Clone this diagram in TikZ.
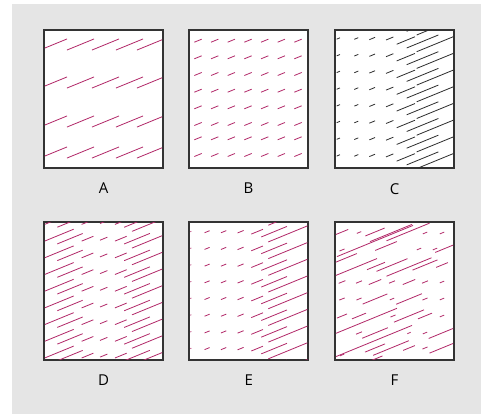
\documentclass[tikz,border=0pt]{standalone}
\usepackage{fontspec}
\setsansfont{Open Sans}
\usetikzlibrary{positioning}

\definecolor{bggray}{RGB}{229,229,229}
\definecolor{hatchred}{RGB}{178,40,104}
\definecolor{framegray}{RGB}{51,51,51}
\definecolor{inkgray}{RGB}{45,45,45}

\tikzset{
  panel/.style={draw=framegray, line width=1.9pt, fill=white, minimum width=119pt,
    minimum height=138pt, inner sep=0pt, outer sep=0pt},
  lab/.style={font=\sffamily\fontsize{15}{18}\selectfont, inner sep=0pt},
  hatch/.style={draw=hatchred, line width=0.8pt},
  hatchgray/.style={draw=inkgray, line width=0.8pt},
}

% one slanted stroke, centred at (#2,#3), horizontal length #4
\newcommand{\hstroke}[4][hatch]{\draw[#1] ({#2-0.5*#4},{#3+0.205*#4}) -- ++({#4},{-0.41*#4});}

\begin{document}
\begin{tikzpicture}[x=1pt,y=-1pt]

\useasboundingbox (0,0) rectangle (481,414);
\fill[bggray] (12,4) rectangle (481,414);

% ============================================
% A. REGULAR, SPARSE
% ============================================
\node[panel] (boxA) at (103.5,99) {};
\node[lab, below=15pt of boxA] (labA) {A};
\begin{scope}[shift={(boxA.north west)}]
    \clip (0.95,0.95) rectangle (118.05,137.05);
    \foreach \y in {14.5,52.5,91.5,122.5}
      \foreach \x in {9.5,36.5,61.5,85.5,106.5}
        \hstroke{\x}{\y}{27};
\end{scope}

% ============================================
% B. REGULAR, FINE
% ============================================
\node[panel] (boxB) at (248.5,99) {};
\node[lab, below=15pt of boxB] (labB) {B};
\begin{scope}[shift={(boxB.north west)}]
    \clip (0.95,0.95) rectangle (118.05,137.05);
    \foreach \y in {10.7,27.3,44,60.7,77.3,94,108.3,125}
      \foreach \x in {9,25.7,42.3,59,75.7,92.3,109}
        \hstroke{\x}{\y}{7.3};
\end{scope}

% ============================================
% C. GRADIENT (GRAY)
% ============================================
\node[panel] (boxC) at (394.5,99) {};
\node[lab, below=15pt of boxC] (labC) {C};
\begin{scope}[shift={(boxC.north west)}]
    \clip (0.95,0.95) rectangle (118.05,137.05);
    \foreach \y in {-8.2,8.5,25.2,41.9,58.6,75.3,92,108.7,125.4,142.1}
      \foreach \x/\l/\d in {3.3/3.3/0,21.3/4/0,37.2/5.7/0,54.7/7.3/0,
                            70.8/18.3/2,87.5/31.7/3,101.7/40/5}
        \hstroke[hatchgray]{\x}{\y+\d}{\l};
\end{scope}

% ============================================
% D. DENSE AT THE EDGES
% ============================================
\node[panel] (boxD) at (103.5,291) {};
\node[lab, below=15pt of boxD] (labD) {D};
\begin{scope}[shift={(boxD.north west)}]
    \clip (0.95,0.95) rectangle (118.05,137.05);
    \foreach \y in {0,16.7,33.4,50.1,66.8,83.5,100.2,116.9,133.6}
      \foreach \x/\l/\d in {13.8/31.7/-3,26/25.3/0,43.5/11.7/0,59.7/7.3/0,
                            76.8/11.7/0,93/25.7/0,103.5/31/3}
        \hstroke{\x}{\y+\d}{\l};
\end{scope}

% ============================================
% E. GRADIENT (RED)
% ============================================
\node[panel] (boxE) at (248.8,291) {};
\node[lab, below=15pt of boxE] (labE) {E};
\begin{scope}[shift={(boxE.north west)}]
    \clip (0.95,0.95) rectangle (118.05,137.05);
    \foreach \y in {-7,9.7,26.4,43.1,59.8,76.5,93.2,109.9,126.6,143.3}
      \foreach \x/\l/\d in {1/2/0,17.8/5/0,34.3/5.3/0,51.3/6/0,
                            67.8/11.7/0,84.8/25.7/0,101/44/1.2}
        \hstroke{\x}{\y+\d}{\l};
\end{scope}

% ============================================
% F. IRREGULAR
% ============================================
\node[panel] (boxF) at (394.5,291) {};
\node[lab, below=15pt of boxF] (labF) {F};
\begin{scope}[shift={(boxF.north west)}]
    \clip (0.95,0.95) rectangle (118.05,137.05);
    \foreach \x/\y/\l in {7/10/12.3, 24/10.5/4.3, 40/10/19.3, 56/11/42, 73/10/43,
                          90/11/4.3, 107/11/4.3,
                          7/28/5, 40/19/76, 51/24/21.7, 84/27/4.3, 100/27/4.3, 111/26/21.7,
                          11/36/21.7, 19/46/46, 41/44/18, 57/43/31, 74/45/45, 90/43/25, 107/43/11.7,
                          7/60/6.7, 24/60/6, 40/60/12.3, 57/60/6, 74/60/12.3, 90/60/6, 107/60/4.3,
                          7/77/5.3, 24/77/5, 40/77/24.7, 57/77/4.3, 74/77/25.7, 90/77/5, 107/77/4.3,
                          7/94/10, 24/94/14, 31/99/62, 58/94/5, 74/94/30, 90/94/14, 107/94/4.3,
                          24/111/6, 40/111/25.7, 74/111/3.3, 90/111/4.3, 107/111/26.7,
                          40/126/20, 56/126/35.7, 74/126/11.7, 90/126/5, 107/126/25,
                          39/119/76, 7/133/4.3, 40/137/15}
      \hstroke{\x}{\y}{\l};
\end{scope}

\end{tikzpicture}
\end{document}
